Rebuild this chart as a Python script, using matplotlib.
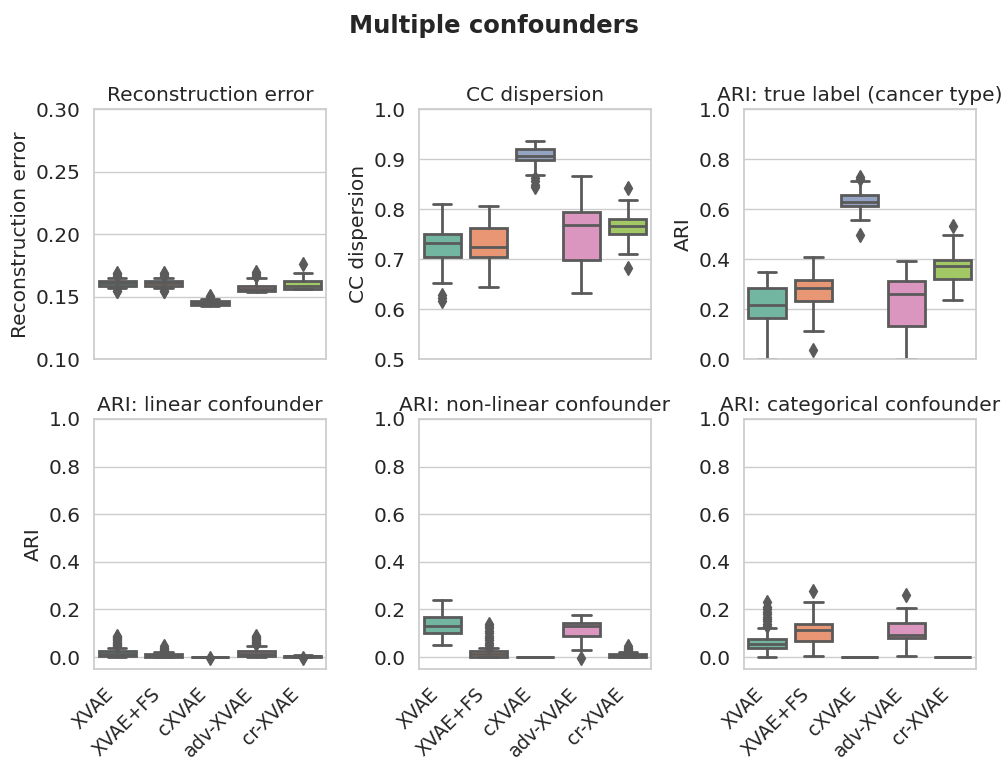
import matplotlib
matplotlib.use('Agg')
import matplotlib.pyplot as plt
import seaborn as sns

# methods on the x axis
methods = ['XVAE', 'XVAE+FS', 'cXVAE', 'adv-XVAE', 'cr-XVAE']

# box stats per method: (whisker low, q1, median, q3, whisker high)
recon_box = [(0.157, 0.1585, 0.161, 0.1625, 0.165),
             (0.157, 0.1590, 0.161, 0.1625, 0.165),
             (0.1425, 0.1435, 0.145, 0.1465, 0.148),
             (0.154, 0.1545, 0.156, 0.1590, 0.165),
             (0.156, 0.1560, 0.159, 0.1630, 0.169)]
recon_fliers = [[0.167, 0.168, 0.169, 0.155, 0.1545],
                [0.167, 0.168, 0.169, 0.155, 0.1545],
                [0.1495, 0.1505],
                [0.1665, 0.168, 0.170],
                [0.176]]

cc_box = [(0.653, 0.705, 0.733, 0.750, 0.811),
          (0.644, 0.705, 0.725, 0.763, 0.807),
          (0.869, 0.898, 0.907, 0.920, 0.937),
          (0.633, 0.699, 0.768, 0.794, 0.867),
          (0.711, 0.750, 0.767, 0.781, 0.818)]
cc_fliers = [[0.628, 0.622, 0.617],
             [],
             [0.862, 0.856, 0.849, 0.845],
             [],
             [0.843, 0.683]]

true_box = [(0.001, 0.167, 0.217, 0.287, 0.348),
            (0.113, 0.233, 0.285, 0.316, 0.408),
            (0.557, 0.612, 0.628, 0.657, 0.713),
            (0.000, 0.133, 0.261, 0.315, 0.395),
            (0.237, 0.320, 0.375, 0.396, 0.497)]
true_fliers = [[], [0.039], [0.729, 0.722, 0.496], [], [0.532]]

lin_box = [(0.000, 0.003, 0.014, 0.025, 0.039),
           (0.000, 0.001, 0.006, 0.012, 0.020),
           (0.000, 0.000, 0.000, 0.000, 0.000),
           (0.000, 0.003, 0.013, 0.025, 0.046),
           (0.000, 0.000, 0.003, 0.006, 0.008)]
lin_fliers = [[0.045, 0.05, 0.055, 0.06, 0.065, 0.07, 0.075, 0.08, 0.085, 0.09],
              [0.025, 0.03, 0.035, 0.04, 0.045],
              [-0.003],
              [0.055, 0.06, 0.065, 0.07, 0.075, 0.08, 0.085, 0.09],
              [-0.003]]

nonlin_box = [(0.049, 0.103, 0.131, 0.169, 0.239),
              (0.000, 0.002, 0.011, 0.024, 0.036),
              (0.000, 0.000, 0.000, 0.000, 0.000),
              (0.028, 0.089, 0.130, 0.144, 0.178),
              (0.000, 0.001, 0.005, 0.012, 0.020)]
nonlin_fliers = [[],
                 [0.04, 0.05, 0.06, 0.07, 0.08, 0.09, 0.10, 0.11, 0.12, 0.13, 0.14],
                 [],
                 [-0.005],
                 [0.025, 0.03, 0.035, 0.04, 0.045]]

cat_box = [(0.000, 0.039, 0.056, 0.077, 0.123),
           (0.003, 0.067, 0.112, 0.137, 0.231),
           (0.000, 0.000, 0.000, 0.000, 0.000),
           (0.003, 0.082, 0.091, 0.144, 0.205),
           (0.000, 0.000, 0.000, 0.000, 0.000)]
cat_fliers = [[0.13, 0.14, 0.15, 0.16, 0.17, 0.18, 0.19, 0.20, 0.21, 0.23],
              [0.277],
              [],
              [0.26],
              []]

panels = [
    ('Reconstruction error', 'Reconstruction error', recon_box, recon_fliers, (0.10, 0.30), 0.05),
    ('CC dispersion', 'CC dispersion', cc_box, cc_fliers, (0.5, 1.0), 0.1),
    ('ARI: true label (cancer type)', 'ARI', true_box, true_fliers, (0.0, 1.0), 0.2),
    ('ARI: linear confounder', 'ARI', lin_box, lin_fliers, (-0.05, 1.0), 0.2),
    ('ARI: non-linear confounder', '', nonlin_box, nonlin_fliers, (-0.05, 1.0), 0.2),
    ('ARI: categorical confounder', '', cat_box, cat_fliers, (-0.05, 1.0), 0.2),
]

sns.set_theme(style='whitegrid')
plt.rcParams['font.family'] = ['DejaVu Sans']
fs = 14.5

colors = [sns.desaturate(c, 0.75) for c in sns.color_palette('Set2', 5)]
gray = '#5a5a5a'
lw = 2.0

fig, axes = plt.subplots(2, 3, figsize=(10.02, 7.59), dpi=100)
fig.subplots_adjust(left=0.0938, right=0.974, top=0.856, bottom=0.1186,
                    wspace=0.40, hspace=0.238)

for i, (ax, (title, ylab, box, fliers, ylim, step)) in enumerate(zip(axes.flat, panels)):
    stats = []
    for (lo, q1, med, q3, hi), fl in zip(box, fliers):
        stats.append(dict(whislo=lo, q1=q1, med=med, q3=q3, whishi=hi, fliers=fl))
    bp = ax.bxp(stats, positions=range(len(methods)), widths=0.8, capwidths=0.4,
                patch_artist=True, showfliers=True,
                boxprops=dict(edgecolor=gray, linewidth=lw),
                medianprops=dict(color=gray, linewidth=lw),
                whiskerprops=dict(color=gray, linewidth=lw),
                capprops=dict(color=gray, linewidth=lw),
                flierprops=dict(marker='d', markerfacecolor=gray, markeredgecolor=gray,
                                markersize=7, linestyle='none'))
    for patch, c in zip(bp['boxes'], colors):
        patch.set_facecolor(c)
    ax.set_xlim(-0.5, len(methods) - 0.5)
    ax.set_ylim(*ylim)
    if ylim[0] < 0:
        ticks = [round(step * k, 2) for k in range(int(round(ylim[1] / step)) + 1)]
    else:
        n = int(round((ylim[1] - ylim[0]) / step))
        ticks = [round(ylim[0] + step * k, 2) for k in range(n + 1)]
    ax.set_yticks(ticks)
    if step == 0.05:
        ax.set_yticklabels([f'{t:.2f}' for t in ticks])
    else:
        ax.set_yticklabels([f'{t:.1f}' for t in ticks])
    ax.xaxis.grid(False)
    ax.set_title(title, fontsize=fs)
    ax.set_ylabel(ylab, fontsize=fs)
    ax.tick_params(axis='y', labelsize=fs)
    ax.set_xticks(range(len(methods)))
    if i < 3:
        ax.set_xticklabels([])
    else:
        ax.set_xticklabels(methods, rotation=45, ha='right', fontsize=13.5)
        ax.tick_params(axis='x', pad=5)

fig.suptitle('Multiple confounders', fontsize=17.5, fontweight='bold', x=0.493, y=0.982)

fig.savefig('out.png', dpi=100)
